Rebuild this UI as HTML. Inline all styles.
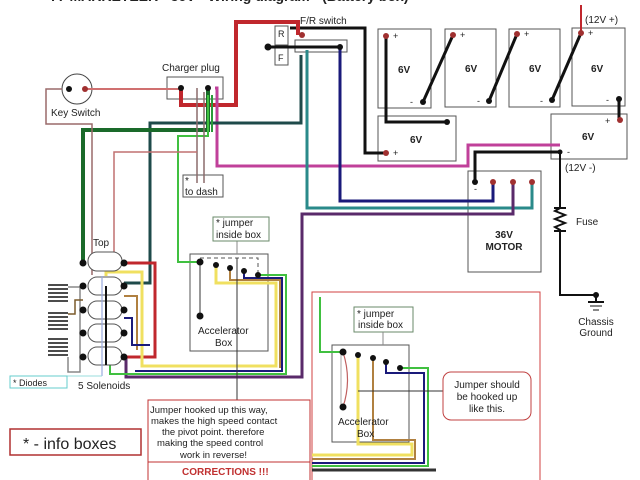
<!DOCTYPE html>
<html><head><meta charset="utf-8"><style>
html,body{margin:0;padding:0;background:#fff;}
svg{display:block;font-family:"Liberation Sans","DejaVu Sans",sans-serif;}
</style></head><body>
<svg width="640" height="480" viewBox="0 0 640 480" xmlns="http://www.w3.org/2000/svg">
<rect width="640" height="480" fill="#fff"/>
<text x="50" y="1" font-size="14" font-weight="bold" fill="#222">77 MARKETEER - 36V - Wiring diagram - (Battery box)</text>
<g fill="none" stroke-linejoin="miter">
<g stroke="#555" stroke-width="1">
<rect x="378" y="29" width="53" height="79"/>
<rect x="445" y="29" width="51" height="78"/>
<rect x="509" y="29" width="51" height="78"/>
<rect x="572" y="28" width="53" height="78"/>
<rect x="378" y="116" width="78" height="45"/>
<rect x="551" y="114" width="76" height="45"/>
<rect x="468" y="171" width="73" height="101"/>
<rect x="167" y="77" width="56" height="22"/>
<rect x="275" y="26" width="13" height="39"/>
<rect x="295" y="40" width="52" height="12"/>
<rect x="183" y="175" width="40" height="22"/>
<rect x="190" y="254" width="78" height="97"/>
<rect x="332" y="345" width="77" height="97"/>
</g>
<line x1="275" y1="45" x2="288" y2="45" stroke="#555"/>
<circle cx="77" cy="89" r="15" stroke="#444"/>
<g stroke="#111" stroke-width="3">
<polyline points="386,36 386,122 447,122"/>
<line x1="423" y1="102" x2="453" y2="35"/>
<line x1="489" y1="101" x2="517" y2="34"/>
<line x1="552" y1="100" x2="581" y2="33"/>
<polyline points="619,99 619,120"/>
<polyline points="290,28 365,28 365,153 386,153"/>
<polyline points="560,152 475,152 475,182"/>
<line x1="268" y1="47" x2="340" y2="47"/>
</g>
<g stroke="#111" stroke-width="2">
<polyline points="560,152 560,208 555,211 565,215 555,219 565,223 555,227 560,230 560,295 596,295"/>
<line x1="554" y1="208" x2="566" y2="208"/><line x1="554" y1="231" x2="566" y2="231"/>
<line x1="596" y1="295" x2="596" y2="302"/>
<line x1="588" y1="302" x2="604" y2="302"/>
</g>
<line x1="590" y1="306" x2="602" y2="306" stroke="#111"/>
<line x1="593" y1="310" x2="599" y2="310" stroke="#111"/>
<line x1="581" y1="5" x2="581" y2="33" stroke="#c0272d" stroke-width="2"/>
<polyline points="181,88 181,105 236,105 236,22 298,22 298,35" stroke="#c0272d" stroke-width="4"/>
<line x1="85" y1="89" x2="181" y2="89" stroke="#d07070" stroke-width="2"/>
<polyline points="215,88 217,88 217,166 468,166 468,145 560,145" stroke="#c0409a" stroke-width="3"/>
<polyline points="340,47 340,201 493,201 493,182" stroke="#1a1a7a" stroke-width="3"/>
<polyline points="307,50 307,208 532,208 532,182" stroke="#2a8a8a" stroke-width="3"/>
<polyline points="513,182 513,214 302,214 302,377 126,377 126,356" stroke="#5a2a6a" stroke-width="3"/>
<polyline points="301,55 301,123 150,123 150,283 124,283" stroke="#1e4a4a" stroke-width="3"/>
<polyline points="208,88 208,130 83,130 83,262" stroke="#1a6a2a" stroke-width="4"/>
<polyline points="208,95 208,136 178,136 178,262 200,262" stroke="#40c040" stroke-width="2"/>
<polyline points="212,95 212,132" stroke="#2a9a3a" stroke-width="2"/>
<polyline points="62,89 46,89 46,124 92,124 92,275" stroke="#9a6a6a" stroke-width="1.5"/>
<polyline points="197,88 197,183" stroke="#8a6a6a" stroke-width="1.5"/>
<polyline points="204,92 204,183" stroke="#8a6a6a" stroke-width="1.5"/>
<polyline points="197,152 114,152 114,262" stroke="#c07070" stroke-width="1.5"/>
<polyline points="124,263 155,263 155,357 126,357" stroke="#c0272d" stroke-width="3"/>
<polyline points="106,276 106,272 142,272 142,366 276,366 276,283 216,283 216,265" stroke="#f0e060" stroke-width="3"/>
<polyline points="230,268 230,280 280,280 280,368" stroke="#b08040" stroke-width="2"/>
<polyline points="244,271 244,278 282,278 282,371 135,371" stroke="#1a1a7a" stroke-width="2"/>
<polyline points="258,275 286,275 286,374 110,374 110,365" stroke="#40c040" stroke-width="2"/>
<polyline points="124,296 137,296 137,350" stroke="#b08040" stroke-width="2"/>
<polyline points="124,318 132,318 132,345 150,345" stroke="#1a1a7a" stroke-width="2"/>
<g stroke="#555" stroke-width="1" fill="#fff">
<rect x="88" y="252" width="34" height="19" rx="9"/>
<rect x="88" y="277" width="34" height="18" rx="9"/>
<rect x="88" y="301" width="34" height="18" rx="9"/>
<rect x="88" y="324" width="34" height="18" rx="9"/>
<rect x="88" y="347" width="34" height="18" rx="9"/>
</g>
<polyline points="68,287 80,287 80,372 68,372 68,357" stroke="#888" stroke-width="1.5"/>
<polyline points="68,314 75,314 75,300 83,300" stroke="#7a5a2a" stroke-width="1.5"/>
<line x1="106" y1="286" x2="106" y2="365" stroke="#111" stroke-width="2"/>
<line x1="102" y1="276" x2="102" y2="376" stroke="#9ad" stroke-width="1.2"/>
<polyline points="102,376 67,376" stroke="#9dd" stroke-width="1"/>
<g stroke="#111" stroke-width="1.5">
<line x1="48" y1="285" x2="68" y2="285"/><line x1="48" y1="289" x2="68" y2="289"/><line x1="48" y1="293" x2="68" y2="293"/><line x1="48" y1="297" x2="68" y2="297"/><line x1="48" y1="301" x2="68" y2="301"/>
<line x1="48" y1="313" x2="68" y2="313"/><line x1="48" y1="317" x2="68" y2="317"/><line x1="48" y1="321" x2="68" y2="321"/><line x1="48" y1="325" x2="68" y2="325"/><line x1="48" y1="329" x2="68" y2="329"/>
<line x1="48" y1="339" x2="68" y2="339"/><line x1="48" y1="343" x2="68" y2="343"/><line x1="48" y1="347" x2="68" y2="347"/><line x1="48" y1="351" x2="68" y2="351"/><line x1="48" y1="355" x2="68" y2="355"/>
</g>
<polyline points="200,258 258,258 258,275" stroke="#555" stroke-dasharray="4,3"/>
<line x1="200" y1="262" x2="200" y2="316" stroke="#333"/>
<line x1="237" y1="258" x2="237" y2="400" stroke="#333"/>
<line x1="237" y1="241" x2="237" y2="254" stroke="#888"/>
<rect x="213" y="217" width="56" height="24" stroke="#6a8a6a"/>
<rect x="10" y="376" width="57" height="12" stroke="#6cc"/>
<rect x="10" y="429" width="131" height="26" stroke="#b03030" stroke-width="1.5"/>
<rect x="148" y="400" width="162" height="82" stroke="#c03030"/>
<line x1="148" y1="462" x2="310" y2="462" stroke="#c03030"/>
<rect x="312" y="292" width="228" height="190" stroke="#d04040"/>
<polyline points="320,297 320,352 343,352" stroke="#40c040" stroke-width="2"/>
<polyline points="358,355 358,444 412,444 412,455 312,455" stroke="#f0e060" stroke-width="3"/>
<polyline points="373,358 373,440 415,440 415,459 312,459" stroke="#b08040" stroke-width="2"/>
<polyline points="386,360 386,373 424,373 424,463 312,463" stroke="#1a1a7a" stroke-width="2"/>
<polyline points="400,368 428,368 428,466 312,466" stroke="#40c040" stroke-width="2"/>
<line x1="312" y1="470" x2="436" y2="470" stroke="#333" stroke-width="3"/>
<path d="M343,352 Q352,380 343,407" stroke="#c06060" stroke-width="1.2"/>
<line x1="341" y1="352" x2="341" y2="407" stroke="#aaa"/>
<line x1="358" y1="391" x2="443" y2="391" stroke="#333"/>
<rect x="354" y="307" width="59" height="25" stroke="#6a8a6a"/>
<line x1="383" y1="332" x2="383" y2="345" stroke="#888"/>
<rect x="443" y="372" width="88" height="48" rx="8" stroke="#c04040"/>
</g>
<g fill="#111">
<circle cx="69" cy="89" r="3"/><circle cx="181" cy="88" r="3"/><circle cx="208" cy="88" r="3"/>
<circle cx="423" cy="102" r="3"/><circle cx="489" cy="101" r="3"/><circle cx="552" cy="100" r="3"/><circle cx="619" cy="99" r="3"/>
<circle cx="447" cy="122" r="3"/><circle cx="560" cy="152" r="2.5"/><circle cx="475" cy="182" r="3"/><circle cx="596" cy="295" r="3"/>
<circle cx="340" cy="47" r="3"/><circle cx="268" cy="47" r="3.5"/>
<circle cx="200" cy="262" r="3.5"/><circle cx="216" cy="265" r="3"/><circle cx="230" cy="268" r="3"/><circle cx="244" cy="271" r="3"/><circle cx="258" cy="275" r="3"/><circle cx="200" cy="316" r="3.5"/>
<circle cx="343" cy="352" r="3.5"/><circle cx="358" cy="355" r="3"/><circle cx="373" cy="358" r="3"/><circle cx="386" cy="362" r="3"/><circle cx="400" cy="368" r="3"/><circle cx="343" cy="407" r="3.5"/>
<circle cx="83" cy="263" r="3.5"/><circle cx="124" cy="263" r="3.5"/><circle cx="83" cy="286" r="3.5"/><circle cx="124" cy="286" r="3.5"/><circle cx="83" cy="310" r="3.5"/><circle cx="124" cy="310" r="3.5"/><circle cx="83" cy="333" r="3.5"/><circle cx="124" cy="333" r="3.5"/><circle cx="83" cy="357" r="3.5"/><circle cx="124" cy="357" r="3.5"/>
</g>
<g fill="#a03030">
<circle cx="85" cy="89" r="3"/><circle cx="386" cy="36" r="3"/><circle cx="453" cy="35" r="3"/><circle cx="517" cy="34" r="3"/><circle cx="581" cy="33" r="3"/>
<circle cx="386" cy="153" r="3"/><circle cx="620" cy="120" r="3"/><circle cx="493" cy="182" r="3"/><circle cx="513" cy="182" r="3"/><circle cx="532" cy="182" r="3"/><circle cx="302" cy="35" r="3"/>
</g>
<g fill="#222" font-size="10">
<text x="300" y="24">F/R switch</text>
<text x="278" y="37" font-size="9">R</text><text x="278" y="61" font-size="9">F</text>
<text x="162" y="71">Charger plug</text>
<text x="51" y="116">Key Switch</text>
<text x="185" y="184">*</text><text x="185" y="195">to dash</text>
<text x="216" y="226">* jumper</text><text x="216" y="238">inside box</text>
<text x="93" y="246">Top</text>
<text x="198" y="334">Accelerator</text><text x="215" y="346">Box</text>
<text x="13" y="386" font-size="9">* Diodes</text>
<text x="78" y="389">5 Solenoids</text>
<text x="23" y="449" font-size="16">*   - info boxes</text>
<text x="150" y="413" font-size="9.5">Jumper hooked up this way,</text>
<text x="151" y="424" font-size="9.5">makes the high speed contact</text>
<text x="162" y="435" font-size="9.5">the pivot point. therefore</text>
<text x="157" y="446" font-size="9.5">making the speed control</text>
<text x="180" y="458" font-size="9.5">work in reverse!</text>
<text x="182" y="475" font-size="10" font-weight="bold" fill="#c03030">CORRECTIONS !!!</text>
<text x="357" y="317">* jumper</text><text x="358" y="328">inside box</text>
<text x="338" y="425">Accelerator</text><text x="357" y="437">Box</text>
<text x="487" y="388" text-anchor="middle">Jumper should</text>
<text x="487" y="400" text-anchor="middle">be hooked up</text>
<text x="487" y="412" text-anchor="middle">like this.</text>
<text x="585" y="23">(12V +)</text>
<text x="565" y="171">(12V -)</text>
<text x="576" y="225">Fuse</text>
<text x="596" y="325" text-anchor="middle">Chassis</text><text x="596" y="336" text-anchor="middle">Ground</text>
</g>
<g fill="#222" font-size="10" font-weight="bold">
<text x="398" y="73">6V</text><text x="465" y="72">6V</text><text x="529" y="72">6V</text><text x="591" y="72">6V</text>
<text x="410" y="143">6V</text><text x="582" y="140">6V</text>
<text x="504" y="238" text-anchor="middle">36V</text><text x="504" y="250" text-anchor="middle">MOTOR</text>
</g>
<g fill="#222" font-size="9">
<text x="393" y="39">+</text><text x="460" y="38">+</text><text x="524" y="37">+</text><text x="588" y="36">+</text>
<text x="410" y="105">-</text><text x="477" y="104">-</text><text x="540" y="104">-</text><text x="606" y="103">-</text>
<text x="393" y="156">+</text><text x="605" y="124">+</text><text x="567" y="155">-</text><text x="474" y="192">-</text>
</g>
</svg>
</body></html>
